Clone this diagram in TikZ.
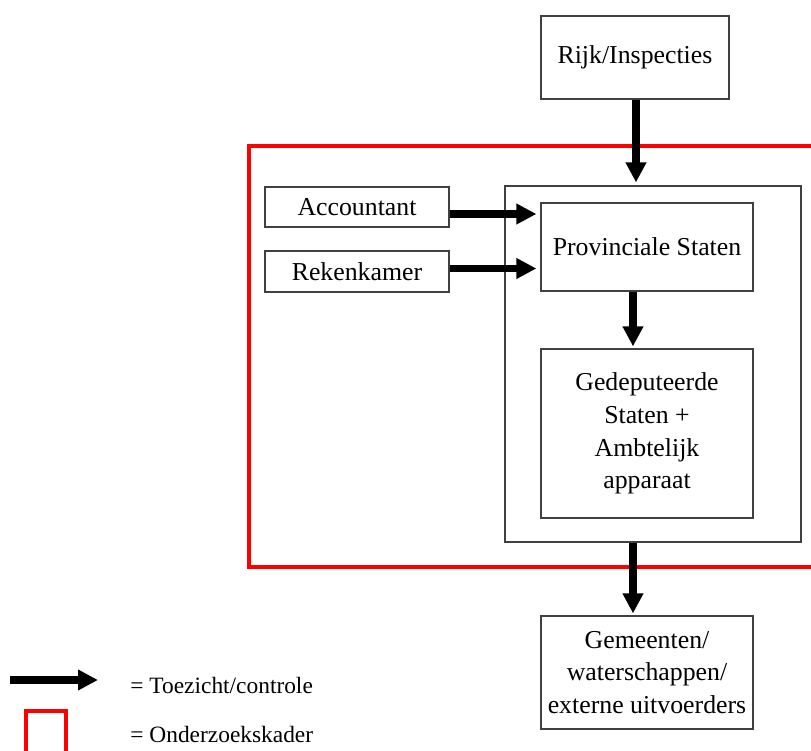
\documentclass[tikz,border=0pt]{standalone}
\usepackage{fontspec}
\setmainfont{Liberation Serif}
\usetikzlibrary{positioning}
\usetikzlibrary{arrows.meta}

\tikzset{
  box/.style={draw=black!75, line width=0.6pt, align=center, inner sep=0pt,
    font=\fontsize{12.9}{16.3}\selectfont},
  ctrl/.style={line width=3.6pt, -{Triangle[length=10pt,width=9.8pt]}},
  frame/.style={draw=red, line width=1.6pt},
  legend/.style={anchor=west, inner sep=0pt, font=\fontsize{11.7}{13}\selectfont}
}

\begin{document}
\begin{tikzpicture}[x=0.5pt,y=-0.5pt]
  \useasboundingbox (0,0) rectangle (811,751);
  \clip (0,0) rectangle (811,751);
  % research frame, open to the right
  \draw[frame] (249,146) rectangle (840,567);
  \node[box, minimum width=94pt, minimum height=41.5pt] (rijk) at (635,57.5) {Rijk/Inspecties};
  \node[box, minimum width=148pt, minimum height=178pt] (outer) at (653,364) {};
  \node[box, minimum width=92pt, minimum height=20pt] (acc) at (357,207) {Accountant};
  \node[box, minimum width=92pt, minimum height=20.5pt] (rek) at (357,271.5) {Rekenkamer};
  \node[box, minimum width=106pt, minimum height=44pt] (ps) at (647,247) {Provinciale Staten};
  \node[box, minimum width=106pt, minimum height=84.5pt] (gs) at (647,433.5)
    {Gedeputeerde\\Staten +\\Ambtelijk\\apparaat};
  \node[box, minimum width=106pt, minimum height=56.5pt] (gem) at (647,672.5)
    {Gemeenten/\\waterschappen/\\externe uitvoerders};
  % toezicht arrows
  \draw[ctrl] ([xshift=0.5pt]rijk.south) -- ([xshift=0.5pt,yshift=1.5pt]rijk.south |- outer.north);
  \draw[ctrl] ([yshift=-3.5pt]acc.east) -- ([xshift=-2pt,yshift=-3.5pt]acc.east -| ps.west);
  \draw[ctrl] ([yshift=1.5pt]rek.east) -- ([xshift=-2pt,yshift=1.5pt]rek.east -| ps.west);
  \draw[ctrl] ([xshift=-7pt]ps.south) -- ([xshift=-7pt,yshift=1pt]ps.south |- gs.north);
  \draw[ctrl] ([xshift=-10pt]outer.south) -- ([xshift=-7pt,yshift=1pt]gem.north);
  % legend
  \coordinate (la) at (10,680);
  \coordinate (lb) at (98,680);
  \draw[ctrl] (la) -- (lb);
  \node[legend] (lctrl) at (130,685) {= Toezicht/controle};
  \draw[frame] (26,711) rectangle (66,780);
  \node[legend] (lkader) at (130,734) {= Onderzoekskader};
\end{tikzpicture}
\end{document}
